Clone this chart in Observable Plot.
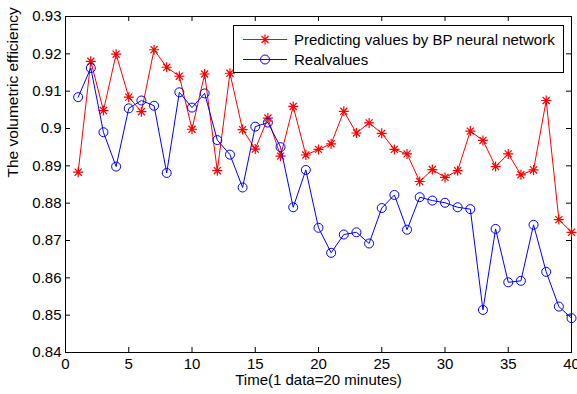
<!DOCTYPE html>
<html><head><meta charset="utf-8">
<script src="https://cdn.jsdelivr.net/npm/d3@7"></script>
<script src="https://cdn.jsdelivr.net/npm/@observablehq/plot@0.6"></script>
<style>
body{margin:0;background:#fff;}
svg{font-family:"Liberation Sans",Arial,sans-serif;}
</style>
</head><body><div id="chart"></div>
<script>
const time = [1,2,3,4,5,6,7,8,9,10,11,12,13,14,15,16,17,18,19,20,21,22,23,24,25,26,27,28,29,30,31,32,33,34,35,36,37,38,39,40];
const predicted = [0.8883,0.9180,0.9048,0.9199,0.9084,0.9045,0.9211,0.9164,0.9140,0.8998,0.9146,0.8887,0.9148,0.8997,0.8945,0.9028,0.8926,0.9059,0.8929,0.8944,0.8959,0.9046,0.8988,0.9015,0.8987,0.8944,0.8932,0.8858,0.8890,0.8869,0.8887,0.8993,0.8968,0.8898,0.8932,0.8876,0.8889,0.9075,0.8756,0.8722];
const real = [0.9084,0.9162,0.8990,0.8898,0.9054,0.9075,0.9061,0.8881,0.9097,0.9056,0.9094,0.8969,0.8930,0.8842,0.9005,0.9016,0.8950,0.8789,0.8889,0.8734,0.8667,0.8716,0.8722,0.8692,0.8787,0.8822,0.8729,0.8816,0.8807,0.8801,0.8789,0.8784,0.8514,0.8731,0.8588,0.8592,0.8742,0.8616,0.8523,0.8492];
const xTicks = [0,5,10,15,20,25,30,35,40];
const yTicks = [0.84,0.85,0.86,0.87,0.88,0.89,0.90,0.91,0.92,0.93];
const seriesNames = ["Predicting values by BP neural network","Realvalues"];
const xLabel = "Time(1 data=20 minutes)";
const yLabel = "The volumetric efficiency";

const predData = time.map((t,i)=>({t, v: predicted[i]}));
const realData = time.map((t,i)=>({t, v: real[i]}));

const star8 = {draw(ctx, size){
  const r = Math.sqrt(size/Math.PI), d = r*Math.SQRT1_2;
  ctx.moveTo(-r,0); ctx.lineTo(r,0);
  ctx.moveTo(0,-r); ctx.lineTo(0,r);
  ctx.moveTo(-d,-d); ctx.lineTo(d,d);
  ctx.moveTo(-d,d); ctx.lineTo(d,-d);
}};
const fmtY = d => String(+(+d).toFixed(2));

const W = 577, H = 394, mL = 65, mR = 6, mT = 16, mB = 42, TK = 5;
const innerW = W - mL - mR, innerH = H - mT - mB;

const chart = Plot.plot({
  width: W, height: H,
  marginLeft: mL, marginRight: mR, marginTop: mT, marginBottom: mB,
  style: {fontFamily: "Liberation Sans, Arial, sans-serif", fontSize: "15px", background: "white", color: "black"},
  x: {domain: [0, 40]},
  y: {domain: [0.84, 0.93]},
  marks: [
    Plot.axisX(xTicks, {anchor: "bottom", tickSize: 0, tickPadding: 6, tickFormat: d => String(d), label: null, fontSize: 15}),
    Plot.axisY(yTicks, {anchor: "left", tickSize: 0, tickPadding: 4, tickFormat: fmtY, label: null, fontSize: 15}),
    // inward ticks on all four sides
    Plot.tickX(xTicks, {x: d => d, insetTop: innerH - TK, stroke: "black"}),
    Plot.tickX(xTicks, {x: d => d, insetBottom: innerH - TK, stroke: "black"}),
    Plot.tickY(yTicks, {y: d => d, insetRight: innerW - TK, stroke: "black"}),
    Plot.tickY(yTicks, {y: d => d, insetLeft: innerW - TK, stroke: "black"}),
    Plot.frame({stroke: "black"}),
    Plot.line(predData, {x: "t", y: "v", stroke: "#ff0000", strokeWidth: 1}),
    Plot.dot(predData, {x: "t", y: "v", symbol: star8, r: 5, stroke: "#ff0000", fill: "none", strokeWidth: 1.2}),
    Plot.line(realData, {x: "t", y: "v", stroke: "#0000ff", strokeWidth: 1}),
    Plot.dot(realData, {x: "t", y: "v", symbol: "circle", r: 4.5, stroke: "#0000ff", fill: "none", strokeWidth: 1}),
    Plot.text([xLabel], {frameAnchor: "bottom", dy: 32, fontSize: 15, fill: "black"}),
    Plot.text([yLabel], {frameAnchor: "left", rotate: -90, dx: -52, dy: -7, fontSize: 15.5, fill: "black"})
  ]
});
document.getElementById("chart").appendChild(chart);

// legend
const svg = d3.select(chart);
const lg = svg.append("g").attr("font-family", "Liberation Sans, Arial, sans-serif").attr("font-size", 15).attr("text-anchor", "start");
lg.append("rect").attr("x", 233.5).attr("y", 25.5).attr("width", 330).attr("height", 47).attr("fill", "white").attr("stroke", "black");
const entries = [
  {name: seriesNames[0], color: "#ff0000", sym: star8, r: 5, y: 39.5, sw: 1.2},
  {name: seriesNames[1], color: "#0000ff", sym: d3.symbolCircle, r: 4.5, y: 59.5, sw: 1}
];
for (const e of entries) {
  lg.append("line").attr("x1", 243).attr("x2", 287).attr("y1", e.y).attr("y2", e.y).attr("stroke", e.color);
  lg.append("path").attr("transform", `translate(265,${e.y})`)
    .attr("d", d3.symbol(e.sym, Math.PI*e.r*e.r)()).attr("fill", "none").attr("stroke", e.color).attr("stroke-width", e.sw);
  lg.append("text").attr("x", 294).attr("y", e.y).attr("dy", "0.35em").attr("text-anchor", "start").attr("fill", "black").text(e.name);
}
</script>
</body></html>
